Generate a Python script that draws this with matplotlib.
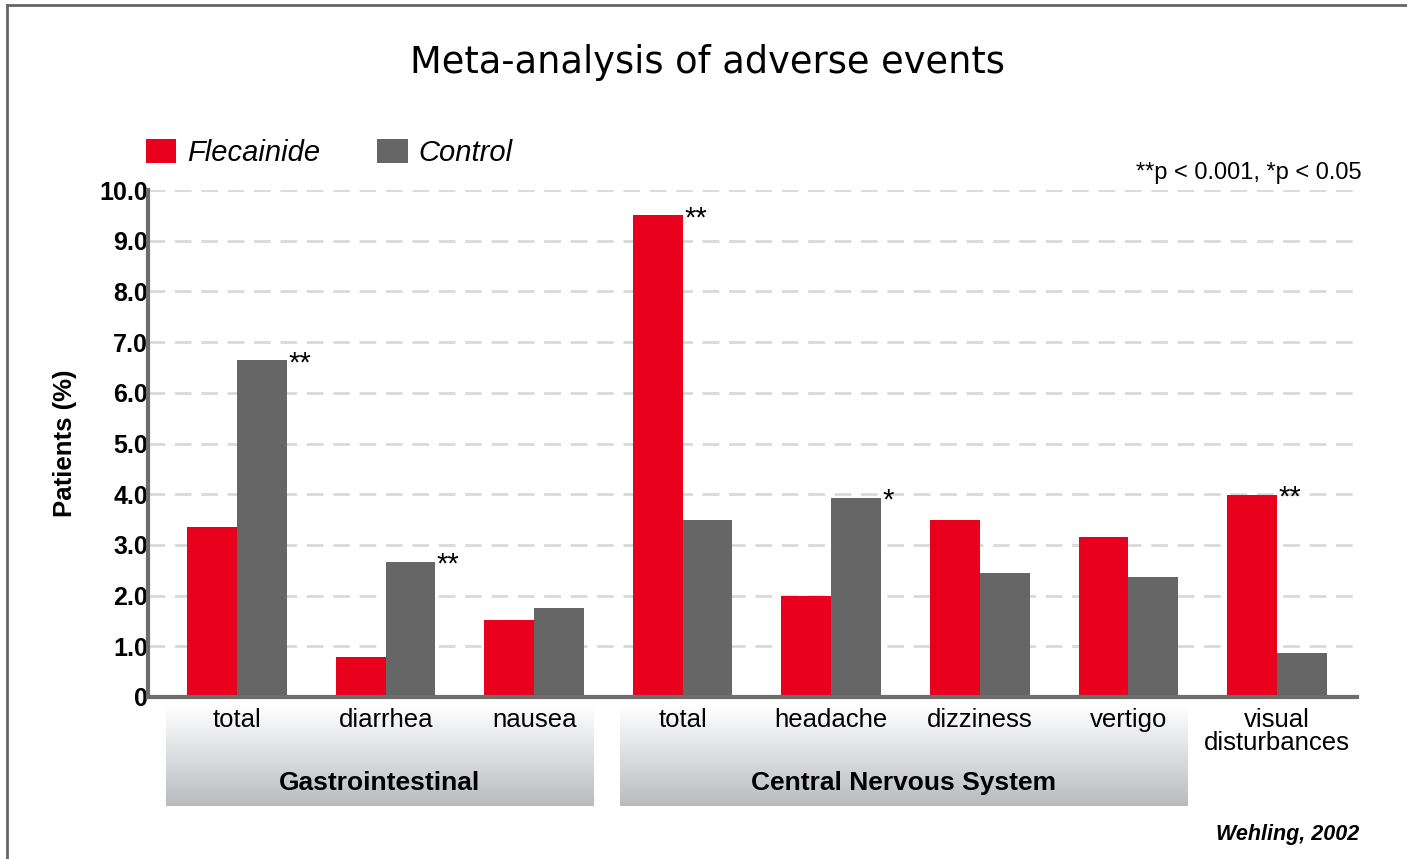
import matplotlib.pyplot as plt
import matplotlib.transforms as mtransforms
from matplotlib.colors import LinearSegmentedColormap
import numpy as np

plt.rcParams['font.family'] = ['Liberation Sans', 'DejaVu Sans']

# data
categories = ['total', 'diarrhea', 'nausea', 'total', 'headache',
              'dizziness', 'vertigo', 'visual\ndisturbances']
flecainide = [3.35, 0.79, 1.52, 9.5, 2.0, 3.5, 3.15, 3.98]
control = [6.64, 2.67, 1.75, 3.5, 3.92, 2.45, 2.37, 0.87]
# significance marks: (category index, series, text)
stars = [(0, 'control', '**'), (1, 'control', '**'), (3, 'flecainide', '**'),
         (4, 'control', '*'), (7, 'flecainide', '**')]
groups = ['Gastrointestinal', 'Central Nervous System']
group_members = [(0, 2), (3, 6)]
yticks = [0, 1, 2, 3, 4, 5, 6, 7, 8, 9, 10]
ytick_labels = ['0', '1.0', '2.0', '3.0', '4.0', '5.0', '6.0', '7.0', '8.0', '9.0', '10.0']

red = '#e8001c'
gray = '#666666'

fig = plt.figure(figsize=(14.07, 8.59), dpi=100)
ax = fig.add_axes([0.1052, 0.1886, 0.8593, 0.5902])

x = np.arange(len(categories))
w = 0.335
bars_f = ax.bar(x - w / 2, flecainide, w, color=red, zorder=3, label='Flecainide')
bars_c = ax.bar(x + w / 2, control, w, color=gray, zorder=3, label='Control')

for i, series, txt in stars:
    if series == 'flecainide':
        xr, val = x[i], flecainide[i]
    else:
        xr, val = x[i] + w, control[i]
    ax.annotate(txt, (xr, val), xytext=(1, -2), textcoords='offset points',
                ha='left', va='center', fontsize=21, zorder=4)

ax.set_yticks(yticks)
ax.set_yticklabels(ytick_labels, fontsize=18, fontweight='bold')
ax.tick_params(axis='y', length=0, pad=0)
ax.set_xticks(x)
ax.set_xticklabels(categories, fontsize=18.5, linespacing=0.92)
ax.tick_params(axis='x', length=0, pad=8)
ax.set_ylabel('Patients (%)', fontsize=18.5, fontweight='bold', labelpad=16)

for yv in yticks[1:]:
    ax.axhline(yv, color='#d9d9d9', lw=2, ls=(0, (6, 3.5)), zorder=1)

for s in ['top', 'right']:
    ax.spines[s].set_visible(False)
for s in ['left', 'bottom']:
    ax.spines[s].set_color('#6d6d6d')
    ax.spines[s].set_linewidth(3)
    ax.spines[s].set_zorder(4)

# group boxes with a vertical gradient below the axis
trans = mtransforms.blended_transform_factory(ax.transData, ax.transAxes)
grad = np.linspace(0, 1, 256).reshape(-1, 1)
cmap = LinearSegmentedColormap.from_list('box', ['#fefefe', '#dcdde0', '#b9babc'])
left_pad = [0.478, 0.423]
for name, (a, b), lp in zip(groups, group_members, left_pad):
    x0, x1 = a - lp, b + 0.40
    ax.imshow(grad, cmap=cmap, aspect='auto', extent=(x0, x1, -0.215, -0.02),
              transform=trans, clip_on=False, zorder=0, interpolation='bicubic')
    ax.text((x0 + x1) / 2, -0.169, name, transform=trans, ha='center', va='center',
            fontsize=19, fontweight='bold')
ax.set_xlim(-0.6, 7.54)
ax.set_ylim(0, 10)

# title, legend and notes
fig.text(0.503, 0.927, 'Meta-analysis of adverse events', ha='center', va='center',
         fontsize=26.5, family='DejaVu Sans')
leg = fig.legend(handles=[bars_f, bars_c], loc='center left', bbox_to_anchor=(0.085, 0.822),
                 ncol=2, frameon=False, fontsize=21, handlelength=1.05, handleheight=0.9,
                 columnspacing=1.95, handletextpad=0.37)
for t in leg.get_texts():
    t.set_fontstyle('italic')
fig.text(0.968, 0.799, '**p < 0.001, *p < 0.05', ha='right', va='center', fontsize=17)
fig.text(0.966, 0.028, 'Wehling, 2002', ha='right', va='center', fontsize=15.5,
         fontweight='bold', fontstyle='italic')

# frame lines at top and left of the figure
fig.add_artist(plt.Line2D([0.005, 1.0], [0.994, 0.994], transform=fig.transFigure,
                          color='#666666', lw=2))
fig.add_artist(plt.Line2D([0.005, 0.005], [0.0, 0.994], transform=fig.transFigure,
                          color='#666666', lw=2))

fig.savefig('out.png', dpi=100)
